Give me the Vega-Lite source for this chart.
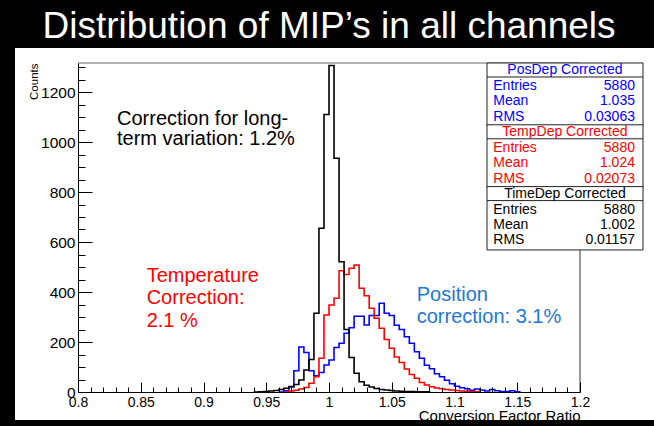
{
  "$schema": "https://vega.github.io/schema/vega-lite/v6.json",
  "width": 502,
  "height": 329,
  "autosize": {"type": "none"},
  "padding": {"left": 78, "top": 63, "right": 74, "bottom": 34},
  "background": "black",
  "title": {"text": "Distribution of MIP’s in all channels", "color": "white", "fontSize": 37, "font": "Liberation Sans", "fontWeight": "normal", "anchor": "middle", "frame": "group", "baseline": "alphabetic", "offset": 11, "dy": 38, "zindex": 2},
  "config": {
    "font": "Liberation Sans",
    "view": {"stroke": null},
    "axis": {"grid": false, "labelFont": "Liberation Sans", "titleFont": "Liberation Sans", "labelColor": "black", "titleColor": "black", "domainColor": "black", "tickColor": "black", "titleFontWeight": "normal", "labelFontSize": 14, "domainWidth": 1, "tickWidth": 1}
  },
  "datasets": {
    "hist": [
      {"series": "PosDep Corrected", "ratio": 0.960, "counts": 0},
      {"series": "PosDep Corrected", "ratio": 0.964, "counts": 5},
      {"series": "PosDep Corrected", "ratio": 0.968, "counts": 20},
      {"series": "PosDep Corrected", "ratio": 0.972, "counts": 85},
      {"series": "PosDep Corrected", "ratio": 0.976, "counts": 180},
      {"series": "PosDep Corrected", "ratio": 0.980, "counts": 158},
      {"series": "PosDep Corrected", "ratio": 0.984, "counts": 85},
      {"series": "PosDep Corrected", "ratio": 0.988, "counts": 65},
      {"series": "PosDep Corrected", "ratio": 0.992, "counts": 78},
      {"series": "PosDep Corrected", "ratio": 0.996, "counts": 108},
      {"series": "PosDep Corrected", "ratio": 1.000, "counts": 128},
      {"series": "PosDep Corrected", "ratio": 1.004, "counts": 178},
      {"series": "PosDep Corrected", "ratio": 1.008, "counts": 195},
      {"series": "PosDep Corrected", "ratio": 1.012, "counts": 235},
      {"series": "PosDep Corrected", "ratio": 1.016, "counts": 257},
      {"series": "PosDep Corrected", "ratio": 1.020, "counts": 303},
      {"series": "PosDep Corrected", "ratio": 1.024, "counts": 303},
      {"series": "PosDep Corrected", "ratio": 1.028, "counts": 268},
      {"series": "PosDep Corrected", "ratio": 1.032, "counts": 306},
      {"series": "PosDep Corrected", "ratio": 1.036, "counts": 306},
      {"series": "PosDep Corrected", "ratio": 1.040, "counts": 355},
      {"series": "PosDep Corrected", "ratio": 1.044, "counts": 315},
      {"series": "PosDep Corrected", "ratio": 1.048, "counts": 306},
      {"series": "PosDep Corrected", "ratio": 1.052, "counts": 267},
      {"series": "PosDep Corrected", "ratio": 1.056, "counts": 250},
      {"series": "PosDep Corrected", "ratio": 1.060, "counts": 221},
      {"series": "PosDep Corrected", "ratio": 1.064, "counts": 195},
      {"series": "PosDep Corrected", "ratio": 1.068, "counts": 161},
      {"series": "PosDep Corrected", "ratio": 1.072, "counts": 135},
      {"series": "PosDep Corrected", "ratio": 1.076, "counts": 107},
      {"series": "PosDep Corrected", "ratio": 1.080, "counts": 93},
      {"series": "PosDep Corrected", "ratio": 1.084, "counts": 73},
      {"series": "PosDep Corrected", "ratio": 1.088, "counts": 61},
      {"series": "PosDep Corrected", "ratio": 1.092, "counts": 47},
      {"series": "PosDep Corrected", "ratio": 1.096, "counts": 33},
      {"series": "PosDep Corrected", "ratio": 1.100, "counts": 23},
      {"series": "PosDep Corrected", "ratio": 1.104, "counts": 17},
      {"series": "PosDep Corrected", "ratio": 1.108, "counts": 13},
      {"series": "PosDep Corrected", "ratio": 1.112, "counts": 7},
      {"series": "PosDep Corrected", "ratio": 1.116, "counts": 12},
      {"series": "PosDep Corrected", "ratio": 1.120, "counts": 8},
      {"series": "PosDep Corrected", "ratio": 1.124, "counts": 4},
      {"series": "PosDep Corrected", "ratio": 1.128, "counts": 10},
      {"series": "PosDep Corrected", "ratio": 1.132, "counts": 5},
      {"series": "PosDep Corrected", "ratio": 1.136, "counts": 2},
      {"series": "PosDep Corrected", "ratio": 1.140, "counts": 2},
      {"series": "PosDep Corrected", "ratio": 1.144, "counts": 5},
      {"series": "PosDep Corrected", "ratio": 1.148, "counts": 1},
      {"series": "PosDep Corrected", "ratio": 1.152, "counts": 0},
      {"series": "TempDep Corrected", "ratio": 0.964, "counts": 0},
      {"series": "TempDep Corrected", "ratio": 0.968, "counts": 4},
      {"series": "TempDep Corrected", "ratio": 0.972, "counts": 7},
      {"series": "TempDep Corrected", "ratio": 0.976, "counts": 12},
      {"series": "TempDep Corrected", "ratio": 0.980, "counts": 18},
      {"series": "TempDep Corrected", "ratio": 0.984, "counts": 35},
      {"series": "TempDep Corrected", "ratio": 0.988, "counts": 61},
      {"series": "TempDep Corrected", "ratio": 0.992, "counts": 135},
      {"series": "TempDep Corrected", "ratio": 0.996, "counts": 308},
      {"series": "TempDep Corrected", "ratio": 1.000, "counts": 348},
      {"series": "TempDep Corrected", "ratio": 1.004, "counts": 375},
      {"series": "TempDep Corrected", "ratio": 1.008, "counts": 485},
      {"series": "TempDep Corrected", "ratio": 1.012, "counts": 470},
      {"series": "TempDep Corrected", "ratio": 1.016, "counts": 495},
      {"series": "TempDep Corrected", "ratio": 1.020, "counts": 508},
      {"series": "TempDep Corrected", "ratio": 1.024, "counts": 415},
      {"series": "TempDep Corrected", "ratio": 1.028, "counts": 385},
      {"series": "TempDep Corrected", "ratio": 1.032, "counts": 335},
      {"series": "TempDep Corrected", "ratio": 1.036, "counts": 295},
      {"series": "TempDep Corrected", "ratio": 1.040, "counts": 255},
      {"series": "TempDep Corrected", "ratio": 1.044, "counts": 210},
      {"series": "TempDep Corrected", "ratio": 1.048, "counts": 175},
      {"series": "TempDep Corrected", "ratio": 1.052, "counts": 140},
      {"series": "TempDep Corrected", "ratio": 1.056, "counts": 118},
      {"series": "TempDep Corrected", "ratio": 1.060, "counts": 92},
      {"series": "TempDep Corrected", "ratio": 1.064, "counts": 70},
      {"series": "TempDep Corrected", "ratio": 1.068, "counts": 55},
      {"series": "TempDep Corrected", "ratio": 1.072, "counts": 38},
      {"series": "TempDep Corrected", "ratio": 1.076, "counts": 28},
      {"series": "TempDep Corrected", "ratio": 1.080, "counts": 21},
      {"series": "TempDep Corrected", "ratio": 1.084, "counts": 16},
      {"series": "TempDep Corrected", "ratio": 1.088, "counts": 13},
      {"series": "TempDep Corrected", "ratio": 1.092, "counts": 10},
      {"series": "TempDep Corrected", "ratio": 1.096, "counts": 8},
      {"series": "TempDep Corrected", "ratio": 1.100, "counts": 6},
      {"series": "TempDep Corrected", "ratio": 1.104, "counts": 4},
      {"series": "TempDep Corrected", "ratio": 1.108, "counts": 3},
      {"series": "TempDep Corrected", "ratio": 1.112, "counts": 2},
      {"series": "TempDep Corrected", "ratio": 1.116, "counts": 1},
      {"series": "TempDep Corrected", "ratio": 1.120, "counts": 0},
      {"series": "TimeDep Corrected", "ratio": 0.940, "counts": 0},
      {"series": "TimeDep Corrected", "ratio": 0.944, "counts": 1},
      {"series": "TimeDep Corrected", "ratio": 0.948, "counts": 2},
      {"series": "TimeDep Corrected", "ratio": 0.952, "counts": 4},
      {"series": "TimeDep Corrected", "ratio": 0.956, "counts": 6},
      {"series": "TimeDep Corrected", "ratio": 0.960, "counts": 10},
      {"series": "TimeDep Corrected", "ratio": 0.964, "counts": 15},
      {"series": "TimeDep Corrected", "ratio": 0.968, "counts": 22},
      {"series": "TimeDep Corrected", "ratio": 0.972, "counts": 30},
      {"series": "TimeDep Corrected", "ratio": 0.976, "counts": 48},
      {"series": "TimeDep Corrected", "ratio": 0.980, "counts": 88},
      {"series": "TimeDep Corrected", "ratio": 0.984, "counts": 130},
      {"series": "TimeDep Corrected", "ratio": 0.988, "counts": 315},
      {"series": "TimeDep Corrected", "ratio": 0.992, "counts": 655},
      {"series": "TimeDep Corrected", "ratio": 0.996, "counts": 1110},
      {"series": "TimeDep Corrected", "ratio": 1.000, "counts": 1306},
      {"series": "TimeDep Corrected", "ratio": 1.004, "counts": 935},
      {"series": "TimeDep Corrected", "ratio": 1.008, "counts": 521},
      {"series": "TimeDep Corrected", "ratio": 1.012, "counts": 250},
      {"series": "TimeDep Corrected", "ratio": 1.016, "counts": 138},
      {"series": "TimeDep Corrected", "ratio": 1.020, "counts": 75},
      {"series": "TimeDep Corrected", "ratio": 1.024, "counts": 41},
      {"series": "TimeDep Corrected", "ratio": 1.028, "counts": 27},
      {"series": "TimeDep Corrected", "ratio": 1.032, "counts": 20},
      {"series": "TimeDep Corrected", "ratio": 1.036, "counts": 14},
      {"series": "TimeDep Corrected", "ratio": 1.040, "counts": 10},
      {"series": "TimeDep Corrected", "ratio": 1.044, "counts": 8},
      {"series": "TimeDep Corrected", "ratio": 1.048, "counts": 6},
      {"series": "TimeDep Corrected", "ratio": 1.052, "counts": 4},
      {"series": "TimeDep Corrected", "ratio": 1.056, "counts": 3},
      {"series": "TimeDep Corrected", "ratio": 1.060, "counts": 2},
      {"series": "TimeDep Corrected", "ratio": 1.064, "counts": 2},
      {"series": "TimeDep Corrected", "ratio": 1.068, "counts": 1},
      {"series": "TimeDep Corrected", "ratio": 1.072, "counts": 1},
      {"series": "TimeDep Corrected", "ratio": 1.076, "counts": 1},
      {"series": "TimeDep Corrected", "ratio": 1.080, "counts": 0}
    ],
    "stats": [
      {"hist": "PosDep Corrected", "line": 0, "last": 3, "kind": "header", "label": "PosDep Corrected", "value": ""},
      {"hist": "PosDep Corrected", "line": 1, "kind": "row", "label": "Entries", "value": "5880"},
      {"hist": "PosDep Corrected", "line": 2, "kind": "row", "label": "Mean", "value": "1.035"},
      {"hist": "PosDep Corrected", "line": 3, "kind": "row", "label": "RMS", "value": "0.03063"},
      {"hist": "TempDep Corrected", "line": 4, "last": 7, "kind": "header", "label": "TempDep Corrected", "value": ""},
      {"hist": "TempDep Corrected", "line": 5, "kind": "row", "label": "Entries", "value": "5880"},
      {"hist": "TempDep Corrected", "line": 6, "kind": "row", "label": "Mean", "value": "1.024"},
      {"hist": "TempDep Corrected", "line": 7, "kind": "row", "label": "RMS", "value": "0.02073"},
      {"hist": "TimeDep Corrected", "line": 8, "last": 11, "kind": "header", "label": "TimeDep Corrected", "value": ""},
      {"hist": "TimeDep Corrected", "line": 9, "kind": "row", "label": "Entries", "value": "5880"},
      {"hist": "TimeDep Corrected", "line": 10, "kind": "row", "label": "Mean", "value": "1.002"},
      {"hist": "TimeDep Corrected", "line": 11, "kind": "row", "label": "RMS", "value": "0.01157"}
    ]
  },
  "layer": [
    {
      "data": {"values": [{}]},
      "mark": {"type": "rect", "fill": "white"},
      "encoding": {
        "x": {"datum": 0.7498, "type": "quantitative", "scale": {"domain": [0.8, 1.2], "nice": false, "zero": false}, "axis": null},
        "x2": {"datum": 1.27},
        "y": {"datum": -112, "type": "quantitative", "scale": {"domain": [0, 1316], "nice": false, "zero": false}, "axis": null},
        "y2": {"datum": 1376}
      }
    },
    {
      "data": {"name": "hist"},
      "mark": {"type": "line", "interpolate": "step-after", "strokeWidth": 1.6},
      "encoding": {
        "x": {"field": "ratio", "type": "quantitative", "scale": {"domain": [0.8, 1.2], "nice": false, "zero": false},
              "axis": {"orient": "bottom", "zindex": 1, "values": [0.8, 0.85, 0.9, 0.95, 1, 1.05, 1.1, 1.15, 1.2], "format": "~g", "tickSize": -10, "labelPadding": 13, "labelFontSize": 14, "labelFlush": false, "labelOverlap": false, "title": "Conversion Factor Ratio", "titleAnchor": "end", "titleFontSize": 15, "titleBaseline": "alphabetic", "titleY": 28}},
        "y": {"field": "counts", "type": "quantitative", "scale": {"domain": [0, 1316], "nice": false, "zero": false},
              "axis": {"orient": "left", "zindex": 1, "values": [0, 200, 400, 600, 800, 1000, 1200], "format": "d", "tickSize": -14, "labelPadding": 17, "labelFontSize": 15.5, "labelFlush": false, "labelOverlap": false, "title": "Counts", "titleFontSize": 11.5, "titleAngle": -90, "titleAlign": "right", "titleBaseline": "alphabetic", "titleX": -41, "titleY": 0}},
        "color": {"field": "series", "type": "nominal", "scale": {"domain": ["PosDep Corrected", "TempDep Corrected", "TimeDep Corrected"], "range": ["#0000ff", "#ff0000", "#000000"]}, "legend": null}
      }
    },
    {
      "data": {"values": [{"note": "Correction for long-\nterm variation: 1.2%", "ratio": 0.8311, "counts": 1068}]},
      "mark": {"type": "text", "align": "left", "baseline": "alphabetic", "fontSize": 20, "lineHeight": 20, "lineBreak": "\n", "color": "black", "font": "Liberation Sans"},
      "encoding": {
        "x": {"field": "ratio", "type": "quantitative", "scale": {"domain": [0.8, 1.2], "nice": false, "zero": false}, "axis": null},
        "y": {"field": "counts", "type": "quantitative", "scale": {"domain": [0, 1316], "nice": false, "zero": false}, "axis": null},
        "text": {"field": "note"}
      }
    },
    {
      "data": {"values": [{"note": "Temperature\nCorrection:\n2.1 %", "ratio": 0.8547, "counts": 441}]},
      "mark": {"type": "text", "align": "left", "baseline": "alphabetic", "fontSize": 20, "lineHeight": 22.5, "lineBreak": "\n", "color": "#ff0000", "font": "Liberation Sans"},
      "encoding": {
        "x": {"field": "ratio", "type": "quantitative", "scale": {"domain": [0.8, 1.2], "nice": false, "zero": false}, "axis": null},
        "y": {"field": "counts", "type": "quantitative", "scale": {"domain": [0, 1316], "nice": false, "zero": false}, "axis": null},
        "text": {"field": "note"}
      }
    },
    {
      "data": {"values": [{"note": "Position\ncorrection: 3.1%", "ratio": 1.0699, "counts": 364}]},
      "mark": {"type": "text", "align": "left", "baseline": "alphabetic", "fontSize": 20, "lineHeight": 21.7, "lineBreak": "\n", "color": "#1e78d2", "font": "Liberation Sans"},
      "encoding": {
        "x": {"field": "ratio", "type": "quantitative", "scale": {"domain": [0.8, 1.2], "nice": false, "zero": false}, "axis": null},
        "y": {"field": "counts", "type": "quantitative", "scale": {"domain": [0, 1316], "nice": false, "zero": false}, "axis": null},
        "text": {"field": "note"}
      }
    },
    {
      "data": {"values": [{}]},
      "mark": {"type": "rule", "color": "#666666", "strokeWidth": 1},
      "encoding": {
        "x": {"datum": 0.8, "type": "quantitative", "scale": {"domain": [0.8, 1.2], "nice": false, "zero": false},
              "axis": {"orient": "bottom", "zindex": 1, "values": [0.81, 0.82, 0.83, 0.84, 0.86, 0.87, 0.88, 0.89, 0.91, 0.92, 0.93, 0.94, 0.96, 0.97, 0.98, 0.99, 1.01, 1.02, 1.03, 1.04, 1.06, 1.07, 1.08, 1.09, 1.11, 1.12, 1.13, 1.14, 1.16, 1.17, 1.18, 1.19], "tickSize": -5, "labels": false, "domain": false, "title": null}},
        "x2": {"datum": 1.2},
        "y": {"datum": 1316, "type": "quantitative", "scale": {"domain": [0, 1316], "nice": false, "zero": false},
              "axis": {"orient": "left", "zindex": 1, "values": [50, 100, 150, 250, 300, 350, 450, 500, 550, 650, 700, 750, 850, 900, 950, 1050, 1100, 1150, 1250, 1300], "tickSize": -7, "labels": false, "domain": false, "title": null}}
      }
    },
    {
      "data": {"values": [{}]},
      "mark": {"type": "rule", "color": "#333333", "strokeWidth": 1},
      "encoding": {
        "x": {"datum": 1.2, "type": "quantitative", "scale": {"domain": [0.8, 1.2], "nice": false, "zero": false}, "axis": null},
        "y": {"datum": 0, "type": "quantitative", "scale": {"domain": [0, 1316], "nice": false, "zero": false}, "axis": null},
        "y2": {"datum": 1316}
      }
    },
    {
      "data": {"name": "stats"},
      "transform": [{"filter": "datum.kind === 'header'"}],
      "mark": {"type": "rect", "fill": "white", "stroke": "#222222", "strokeWidth": 1, "yOffset": -11.5, "y2Offset": 5.5},
      "encoding": {
        "x": {"datum": 1.1259, "type": "quantitative", "scale": {"domain": [0.8, 1.2], "nice": false, "zero": false}, "axis": null},
        "x2": {"datum": 1.2502},
        "y": {"field": "line", "type": "quantitative", "scale": {"domain": [-0.744, 20.55], "nice": false, "zero": false, "reverse": true}, "axis": null},
        "y2": {"field": "last"}
      }
    },
    {
      "data": {"name": "stats"},
      "transform": [{"filter": "datum.kind === 'header'"}],
      "mark": {"type": "rule", "color": "#222222", "strokeWidth": 1, "yOffset": 2.5},
      "encoding": {
        "x": {"datum": 1.1259, "type": "quantitative", "scale": {"domain": [0.8, 1.2], "nice": false, "zero": false}, "axis": null},
        "x2": {"datum": 1.2502},
        "y": {"field": "line", "type": "quantitative", "scale": {"domain": [-0.744, 20.55], "nice": false, "zero": false, "reverse": true}, "axis": null}
      }
    },
    {
      "data": {"name": "stats"},
      "transform": [{"filter": "datum.kind === 'header'"}],
      "mark": {"type": "text", "align": "center", "baseline": "alphabetic", "fontSize": 14, "font": "Liberation Sans"},
      "encoding": {
        "x": {"datum": 1.188, "type": "quantitative", "scale": {"domain": [0.8, 1.2], "nice": false, "zero": false}, "axis": null},
        "y": {"field": "line", "type": "quantitative", "scale": {"domain": [-0.744, 20.55], "nice": false, "zero": false, "reverse": true}, "axis": null},
        "text": {"field": "label"},
        "color": {"field": "hist", "type": "nominal", "scale": {"domain": ["PosDep Corrected", "TempDep Corrected", "TimeDep Corrected"], "range": ["#0000ff", "#ff0000", "#000000"]}, "legend": null}
      }
    },
    {
      "data": {"name": "stats"},
      "transform": [{"filter": "datum.kind === 'row'"}],
      "mark": {"type": "text", "align": "left", "baseline": "alphabetic", "fontSize": 14, "font": "Liberation Sans"},
      "encoding": {
        "x": {"datum": 1.1309, "type": "quantitative", "scale": {"domain": [0.8, 1.2], "nice": false, "zero": false}, "axis": null},
        "y": {"field": "line", "type": "quantitative", "scale": {"domain": [-0.744, 20.55], "nice": false, "zero": false, "reverse": true}, "axis": null},
        "text": {"field": "label"},
        "color": {"field": "hist", "type": "nominal", "scale": {"domain": ["PosDep Corrected", "TempDep Corrected", "TimeDep Corrected"], "range": ["#0000ff", "#ff0000", "#000000"]}, "legend": null}
      }
    },
    {
      "data": {"name": "stats"},
      "transform": [{"filter": "datum.kind === 'row'"}],
      "mark": {"type": "text", "align": "right", "baseline": "alphabetic", "fontSize": 14, "font": "Liberation Sans"},
      "encoding": {
        "x": {"datum": 1.2438, "type": "quantitative", "scale": {"domain": [0.8, 1.2], "nice": false, "zero": false}, "axis": null},
        "y": {"field": "line", "type": "quantitative", "scale": {"domain": [-0.744, 20.55], "nice": false, "zero": false, "reverse": true}, "axis": null},
        "text": {"field": "value"},
        "color": {"field": "hist", "type": "nominal", "scale": {"domain": ["PosDep Corrected", "TempDep Corrected", "TimeDep Corrected"], "range": ["#0000ff", "#ff0000", "#000000"]}, "legend": null}
      }
    }
  ],
  "resolve": {"scale": {"y": "independent"}, "axis": {"x": "independent", "y": "independent"}}
}
